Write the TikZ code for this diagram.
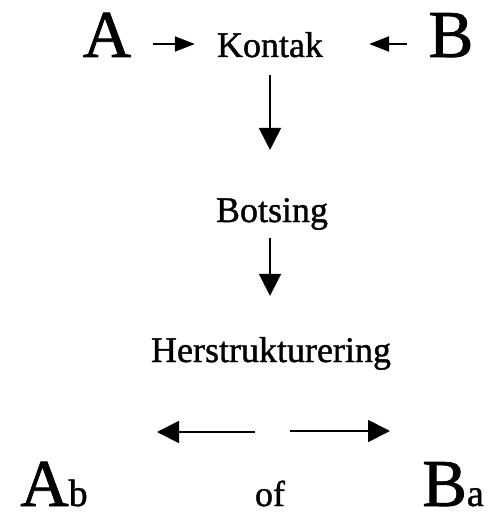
\documentclass[tikz,border=0pt]{standalone}
\usepackage{fontspec}
\setmainfont{Liberation Serif}
\newfontface\heavy{Liberation Serif}[FakeBold=1.2]
\usetikzlibrary{arrows.meta}
\tikzset{
  big/.style={font=\heavy\fontsize{67}{67}\selectfont, inner sep=0pt, anchor=base},
  txt/.style={font=\heavy\fontsize{36}{36}\selectfont, inner sep=0pt, anchor=base},
  smallarr/.style={line width=2pt, -{Triangle[length=20pt,width=15pt]}},
  arr/.style={line width=1.8pt, -{Triangle[length=22pt,width=22pt]}}
}
\begin{document}
\begin{tikzpicture}[x=1pt,y=-1pt]
\useasboundingbox (0,0) rectangle (498,516);
\node[big] (A) at (107,57) {A};
\node[big] (B) at (451,57) {B};
\node[txt] (K) at (270,57) {Kontak};
\node[txt] (Bo) at (272,222) {Botsing};
\node[txt] (H) at (271,362) {Herstrukturering};
\node[big] (Ab) at (54,506) {A{\fontsize{38}{38}\selectfont b}};
\node[txt] (of) at (270,506) {of};
\node[big] (Ba) at (453,506) {B{\fontsize{38}{38}\selectfont a}};
\coordinate (la) at (255,432);
\coordinate (lb) at (157,432);
\coordinate (ra) at (290,431);
\coordinate (rb) at (390,431);
\draw[smallarr] ([shift={(22,-13)}]A.base east) -- ([shift={(-22,-13)}]K.base west);
\draw[smallarr] ([shift={(-21,-13)}]B.base west) -- ([shift={(46,-13)}]K.base east);
\draw[arr, shorten <=17pt, shorten >=48pt] (K.south) -- (K.south |- Bo.north);
\draw[arr, shorten <=8pt, shorten >=41pt] (Bo.south -| K.south) -- (K.south |- H.north);
\draw[arr] (la) -- (lb);
\draw[arr] (ra) -- (rb);
\end{tikzpicture}
\end{document}
